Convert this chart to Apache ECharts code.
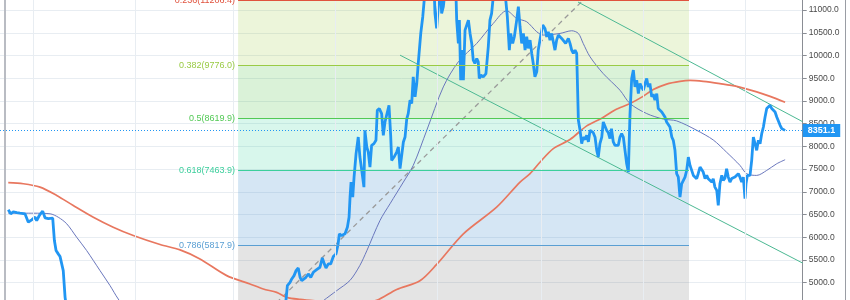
<!DOCTYPE html>
<html><head><meta charset="utf-8">
<script src="https://cdn.jsdelivr.net/npm/echarts@6/dist/echarts.min.js"></script>
<style>html,body{margin:0;padding:0;background:#fff}#c{width:850px;height:300px}</style>
</head><body><div id="c"></div>
<script>
// x values are days since BASE_DATE (2018-10-12, UTC)
const BASE_DATE = Date.UTC(2018, 9, 12);
const DAY = 86400000;

const priceDays = [5.2,6.7,8.2,10.3,12.2,15.2,17.2,19.2,21.2,22.2,23.8,25.8,27.2,29.2,30.2,31.8,32.8,33.8,35.1,36.2,37.2,38.1,39.2,40.2,
44,52,58,64,68,75,85,92,110,118,130,136,145,158,170,
172.2,173.8,174.8,176.2,177.4,178.7,179.8,180.8,181.7,183.3,184.7,186.2,187.7,189.7,191.7,193.1,194.3,195.3,196.7,198.1,199.7,201.3,202.5,203.3,204.7,206.7,208.1,209.1,209.7,210.3,211.3,212.1,213.3,214.6,215.6,216.7,218.0,218.6,219.7,220.6,221.6,222.6,224.0,225.2,226.0,227.2,228.6,229.6,230.6,231.6,233.0,234.0,234.6,236.0,237.6,238.6,239.6,240.6,241.6,242.6,243.6,244.5,245.6,246.6,247.5,248.6,249.6,250.5,252.0,253.2,
254.5,255.7,257.5,258.7,259.6,260.5,261.5,262.5,263.5,264.5,265.5,266.5,268.3,270.1,271.9,273.1,273.5,274.5,275.1,275.9,276.5,277.5,278.5,279.5,280.5,281.5,282.5,283.4,284.4,285.5,286.4,287.0,288.0,289.4,291.0,292.4,293.4,294.4,295.4,297.0,298.8,300.6,302.4,303.8,305.0,305.8,307.0,308.0,309.4,310.4,311.4,312.4,313.4,314.4,315.4,316.3,317.4,318.4,319.3,320.3,321.4,322.3,323.3,325.0,326.3,327.4,328.3,329.3,330.3,331.3,332.3,333.3,334.3,335.3,336.3,337.3,338.7,340.3,341.3,342.3,343.3,344.3,345.3,
346.3,347.3,348.3,349.2,350.3,351.3,352.3,353.3,354.3,355.2,356.3,357.3,358.2,359.2,360.3,361.2,362.2,363.2,364.2,365.2,366.1,367.2,368.2,369.2,370.2,371.2,372.2,373.2,374.2,375.2,376.2,377.2,378.2,379.2,380.2,381.2,382.2,383.2,384.2,385.2,386.2,387.2,388.1,389.1,390.2,391.1,392.1,393.2,394.1,395.1,396.2,397.1,398.1,399.1,400.1,401.1,402.2,403.1,404.1,405.1,406.1,407.1,408.1,409.1,410.1,411.1,412.1,413.1,414.1,415.1,416.1,417.1,418.0,419.1,420.1,421.0,422.1,423.1,424.0,425.1,426.1,427.0,428.0,429.1,430.0,431.0,432.1,433.0,434.0,435.0,436.0,437.0,438.0,439.0,440.0,441.0,442.0,443.0,444.0,445.0,446.0,446.6,447.4,448.4,449.0,450.0,451.0,452.0,453.0,454.0,455.0,456.0,457.0,458.0,459.0,460.0,461.0,462.0,463.0,464.0,465.0,466.0,467.0,468.0,469.0,470.0];
const priceValues = [6603,6515,6560,6540,6528,6515,6330,6383,6440,6367,6478,6573,6427,6410,6405,6418,5926,5706,5633,5573,5595,5264,4676,4400,
3900,4100,3600,3300,3250,3900,3800,3600,3550,3400,3650,4100,3850,4000,4100,
4934,5007,5081,5154,5264,5323,5117,5044,5081,5117,5191,5117,5228,5286,5338,5544,5412,5323,5412,5412,5573,5633,5838,6074,6036,6074,6220,6440,6881,7213,6881,7323,7839,8205,7764,7470,7102,8353,7985,7874,7543,8022,8059,8132,8794,8831,8721,8242,8536,8536,8904,8242,7691,7764,7874,7985,7508,7801,8095,8205,8600,8721,9015,8942,9529,9088,9382,9824,10485,10853,
11400,11600,12800,11800,11900,10927,10596,11073,11700,10927,11073,11400,12200,12000,11400,11300,10779,10265,10779,9456,10118,9456,10559,10669,10779,10485,10265,9897,9824,9934,9861,9493,9566,9529,9603,10191,10779,10927,11300,11700,11900,11600,11400,10853,10118,10485,10265,10412,10779,11073,10632,10265,10485,10118,10412,10155,10338,10045,9824,9529,9640,10118,10338,10669,10596,10412,10522,10338,10485,10302,10118,10338,10449,10485,10376,10412,10265,10376,10265,10118,10045,10118,10045,
8573,8353,8059,8200,8150,8242,8100,8353,8390,8300,8200,7912,7764,8059,8205,8536,8500,8353,8300,8170,8390,8096,8022,7985,8022,8205,8279,8205,7912,7617,7433,8721,9493,9677,9308,9456,9162,9382,9300,9235,9382,9493,9308,9382,9088,9150,9015,9162,8831,8860,8757,8790,8647,8536,8570,8426,8205,8132,7912,7397,7323,6881,7176,7200,7323,7470,7764,7580,7470,7360,7400,7287,7397,7543,7580,7433,7287,7360,7287,7250,7213,7287,7102,7029,6698,7176,7360,7250,7300,7507,7323,7213,7290,7250,7323,7287,7397,7320,7213,7323,6846,7176,7360,7380,7360,7691,8205,8059,7912,8132,8059,8279,8426,8647,8831,8860,8904,8831,8831,8757,8647,8684,8463,8390,8426,8351.1];

const ma200Days = [5.2,14.2,24.2,34.2,44.1,56.1,68.0,80.0,96.0,108.0,119.9,135.9,149.8,157.8,165.8,171.8,179.8,191.7,203.7,215.6,225.6,237.6,251.5,261.5,277.5,297.4,311.4,317.4,323.3,331.3,341.3,351.3,360.3,368.2,377.2,385.0,391.1,399.1,407.1,413.1,421.0,431.0,441.0,453.0,461.0,470.0];
const ma200Values = [7199,7177,7102,6919,6698,6440,6220,6036,5838,5721,5522,5154,4970,4860,4786,4676,4630,4590,4560,4570,4610,4850,5040,5400,6074,6661,7213,7400,7650,7950,8150,8450,8620,8800,8942,9100,9250,9370,9430,9450,9430,9380,9320,9200,9100,8970];

const ma50Days = [5.2,20.2,30.2,35.1,40.2,46.1,52.1,60.1,66.1,71.0,84,120,156,180,193.7,201.7,209.7,215.6,219.7,227.6,233.6,241.6,247.5,255.6,265.5,274.5,285.5,295.4,303.4,309.4,315.4,321.4,325.3,335.3,342.3,346.3,349.2,353.3,361.2,371.2,377.2,387.2,397.1,405.1,417.1,427.0,435.0,443.0,447.0,453.0,459.0,465.0,470.0];
const ma50Values = [6528,6528,6515,6440,6294,6000,5706,5264,4934,4640,4000,3650,3850,4200,4602,4823,5050,5380,5700,6367,6735,7213,7580,8353,9308,9861,10265,10706,10985,10816,10742,10522,10449,10485,10544,10485,10265,9970,9600,9235,8942,8721,8600,8560,8353,8140,7870,7580,7397,7360,7470,7617,7705];

// Fibonacci retracement
const fibRatios = ['0.236','0.382','0.5','0.618','0.786'];
const fibValues = [11206.4, 9776.0, 8619.9, 7463.9, 5817.9];
const fibLow = 3721.5, fibHigh = 13518.3;
const fibStartDay = 142.7, fibEndDay = 412.5;

// descending channel
const channelLowerDays = [239.6, 480.5];
const channelLowerValues = [10007, 5430];
const channelUpperDays = [346.1, 480.5];
const channelUpperValues = [11176, 8542];

// vertical grid (month starts)
const gridDates = ['2018-11-01','2019-01-01','2019-03-01','2019-05-01','2019-07-01','2019-09-01','2019-11-01','2020-01-01'];

// y ticks
const yMin = 4500, yMax = 11500, yStep = 500;

const ts = d => BASE_DATE + d * DAY;
const zip = (xs, ys) => xs.map((d, i) => [ts(d), ys[i]]);

const fibLineColors = ['#e0533e', '#9acb45', '#52c955', '#3ccf9c', '#5a9fd3'];
const bandColors = ['rgba(150,200,50,0.18)', 'rgba(70,190,60,0.2)', 'rgba(40,210,150,0.18)', 'rgba(80,150,210,0.24)', 'rgba(120,120,120,0.2)'];
const bandEdges = fibValues.concat([fibLow]);

const lastPrice = priceValues[priceValues.length - 1];
const FONT = 'Liberation Sans, Arial, sans-serif';

const chart = echarts.init(document.getElementById('c'), null, {renderer: 'canvas'});
chart.setOption({
  animation: false,
  backgroundColor: '#ffffff',
  grid: {left: 0, right: 47.3, top: -12.67, bottom: -5.33, outerBoundsMode: 'none', containLabel: false},
  xAxis: {type: 'time', min: ts(0.26), max: ts(480.52), show: false},
  yAxis: {
    type: 'value', position: 'right', min: yMin, max: yMax, interval: yStep,
    axisLine: {show: true, lineStyle: {color: '#8a8d94', width: 1}},
    axisTick: {show: true, length: 4, lineStyle: {color: '#8a8d94'}},
    axisLabel: {margin: 6, color: '#4a4a4a', fontSize: 8.5, fontFamily: FONT, formatter: v => v.toFixed(1)},
    splitLine: {show: true, lineStyle: {color: '#e8edf2', width: 1}}
  },
  series: [
    {
      name: 'vgrid', type: 'line', data: [], z: 0, silent: true,
      markLine: {
        silent: true, symbol: ['none', 'none'], label: {show: false},
        lineStyle: {color: '#e8edf2', width: 1, type: 'solid'},
        data: gridDates.map(s => ({xAxis: Date.parse(s)}))
      }
    },
    {
      name: 'fib', type: 'line', data: [], z: 1, silent: true,
      markArea: {
        silent: true,
        data: bandColors.map((c, i) => [
          {coord: [ts(fibStartDay), bandEdges[i]], itemStyle: {color: c}},
          {coord: [ts(fibEndDay), bandEdges[i + 1]]}
        ])
      },
      markLine: {
        silent: true, symbol: ['none', 'none'],
        data: fibValues.map((v, i) => [
          {coord: [ts(fibStartDay), v], lineStyle: {color: fibLineColors[i], width: 1, type: 'solid'},
           label: {show: true, position: 'start', distance: 3, color: fibLineColors[i], fontSize: 9, fontFamily: FONT,
                   formatter: fibRatios[i] + '(' + v.toFixed(1) + ')'}},
          {coord: [ts(fibEndDay), v]}
        ])
      }
    },
    {
      name: 'fibTrend', type: 'line', z: 2, silent: true, symbol: 'none',
      data: zip([fibStartDay, fibEndDay], [fibLow, fibHigh]),
      lineStyle: {color: '#9a9a9a', width: 1.3, type: [5, 4]}
    },
    {
      name: 'channelLower', type: 'line', z: 2, silent: true, symbol: 'none',
      data: zip(channelLowerDays, channelLowerValues),
      lineStyle: {color: '#4cb993', width: 1}
    },
    {
      name: 'channelUpper', type: 'line', z: 2, silent: true, symbol: 'none',
      data: zip(channelUpperDays, channelUpperValues),
      lineStyle: {color: '#4cb993', width: 1}
    },
    {
      name: 'MA200', type: 'line', z: 3, silent: true, symbol: 'none', smooth: 0.3,
      data: zip(ma200Days, ma200Values),
      lineStyle: {color: '#e8775f', width: 1.7}
    },
    {
      name: 'MA50', type: 'line', z: 3, silent: true, symbol: 'none', smooth: 0.3,
      data: zip(ma50Days, ma50Values),
      lineStyle: {color: '#6a77bd', width: 1}
    },
    {
      name: 'price', type: 'line', z: 4, silent: true, symbol: 'none',
      data: zip(priceDays, priceValues),
      lineStyle: {color: '#2196f3', width: 2.8},
      markLine: {
        silent: true, symbol: ['none', 'none'],
        label: {show: true, position: 'end', distance: 0, formatter: lastPrice.toFixed(1),
                backgroundColor: '#2196f3', color: '#ffffff', fontSize: 9, fontWeight: 'bold',
                fontFamily: FONT, padding: [2, 5, 2, 5]},
        data: [{yAxis: lastPrice, lineStyle: {color: '#2196f3', width: 1, type: [1, 2]}}]
      }
    }
  ],
  graphic: [
    {type: 'line', shape: {x1: 5, y1: 0, x2: 5, y2: 300}, style: {stroke: '#b9bcc3', lineWidth: 2}, silent: true, z: 10},
    {type: 'line', shape: {x1: 845.5, y1: 0, x2: 845.5, y2: 300}, style: {stroke: '#9a9da4', lineWidth: 1}, silent: true, z: 10}
  ]
});
</script></body></html>
